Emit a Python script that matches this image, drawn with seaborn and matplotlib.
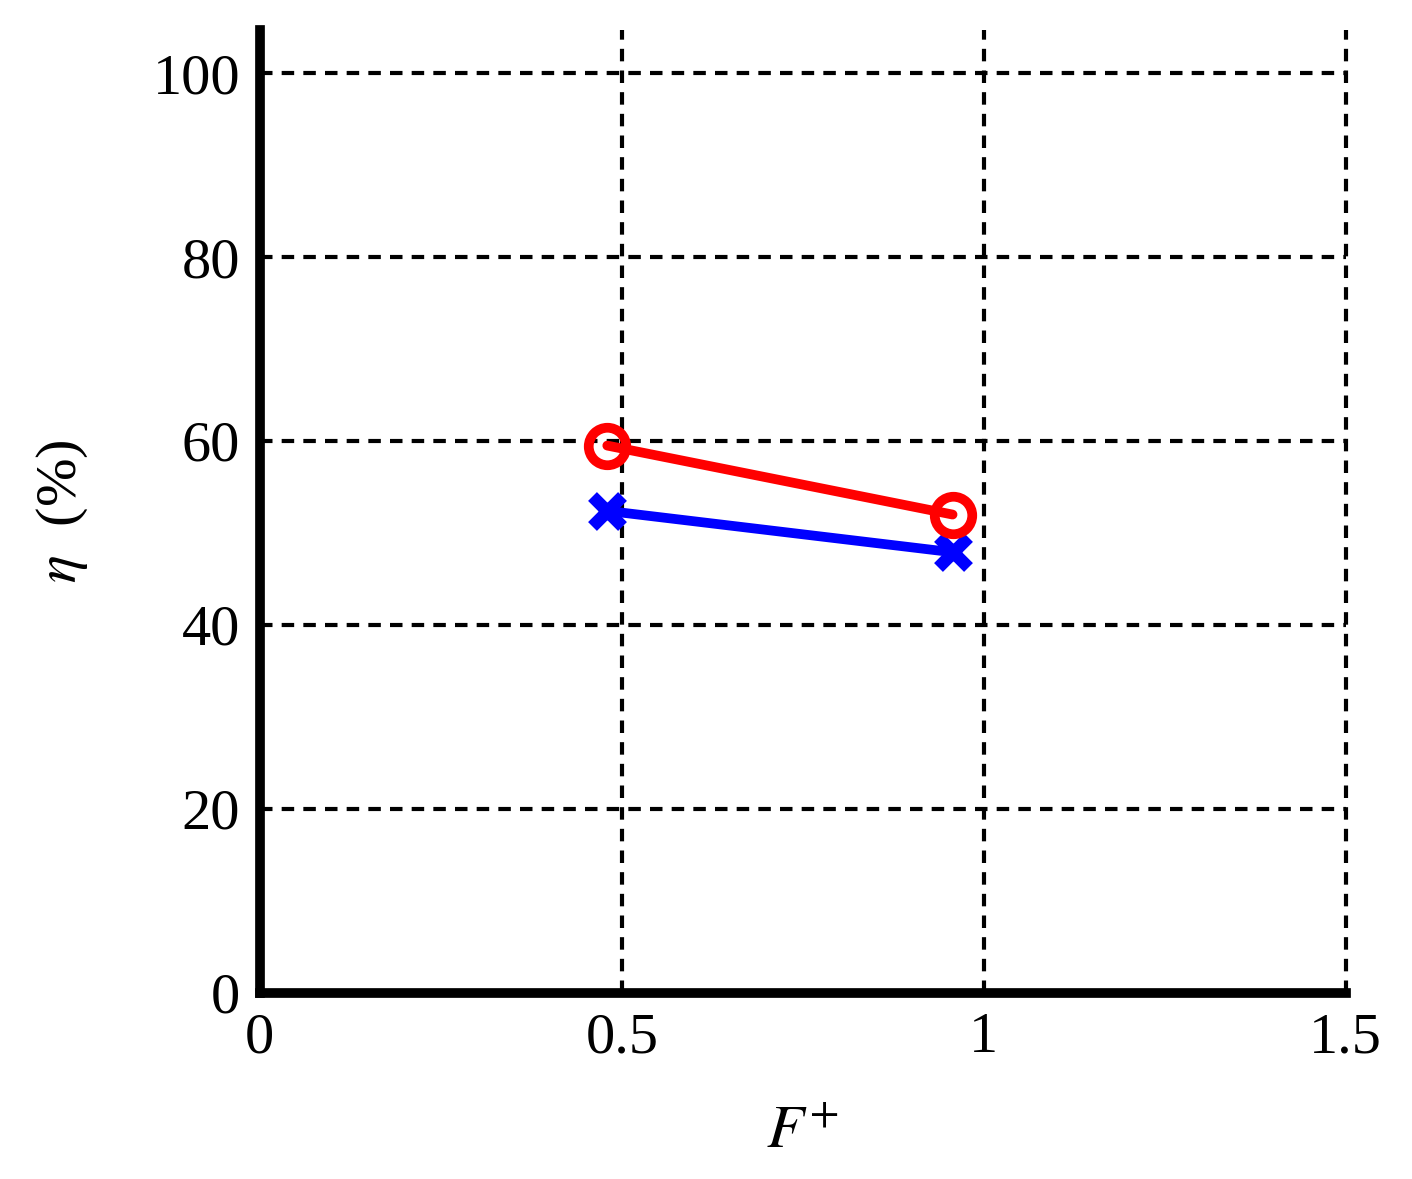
import numpy as np
import pandas as pd
import matplotlib
matplotlib.use("Agg")
import matplotlib.pyplot as plt
import seaborn as sns

# --- DATA ---
f_plus = [0.480, 0.957]
eta_red = [59.5, 52.0]
eta_blue = [52.4, 47.9]
x_ticks = [0, 0.5, 1, 1.5]
x_tick_labels = ["0", "0.5", "1", "1.5"]
y_ticks = [0, 20, 40, 60, 80, 100]

sns.set_style("white")
plt.rcParams["font.family"] = ["Liberation Serif", "DejaVu Serif"]
plt.rcParams["mathtext.fontset"] = "stix"
plt.rcParams["text.color"] = "black"
plt.rcParams["axes.labelcolor"] = "black"

fig = plt.figure(figsize=(14.12, 11.79), dpi=100)
ax = fig.add_axes([0.184, 0.158, 0.769, 0.8166])

df = pd.DataFrame({"F": f_plus + f_plus,
                   "eta": eta_red + eta_blue,
                   "series": ["red"] * 2 + ["blue"] * 2})

sns.lineplot(data=df[df.series == "red"], x="F", y="eta", ax=ax, color="red",
             linewidth=7, marker="o", markersize=27, markerfacecolor="none",
             markeredgecolor="red", markeredgewidth=7, zorder=4)
sns.lineplot(data=df[df.series == "blue"], x="F", y="eta", ax=ax, color="blue",
             linewidth=7, marker="x", markersize=22, markeredgewidth=9,
             markeredgecolor="blue", zorder=3)

ax.set_xlim(0, 1.5)
ax.set_ylim(0, 104.7)
ax.set_xticks(x_ticks)
ax.set_xticklabels(x_tick_labels)
ax.set_yticks(y_ticks)

ax.grid(True, color="black", linestyle=(0, (3, 2.2)), linewidth=3)
ax.set_axisbelow(True)
for gl in ax.get_xgridlines() + ax.get_ygridlines():
    gl.set_clip_on(False)

for s in ["top", "right"]:
    ax.spines[s].set_visible(False)
for s in ["left", "bottom"]:
    ax.spines[s].set_linewidth(7)
    ax.spines[s].set_color("black")

ax.tick_params(axis="both", direction="in", length=8, width=2.5, labelsize=42,
               colors="black", pad=14)

ax.set_xlabel(r"$F^{+}$", fontsize=44, labelpad=30)
ax.set_ylabel(r"$\eta$  (%)", fontsize=42, labelpad=45)

fig.savefig("out.png", dpi=100)
